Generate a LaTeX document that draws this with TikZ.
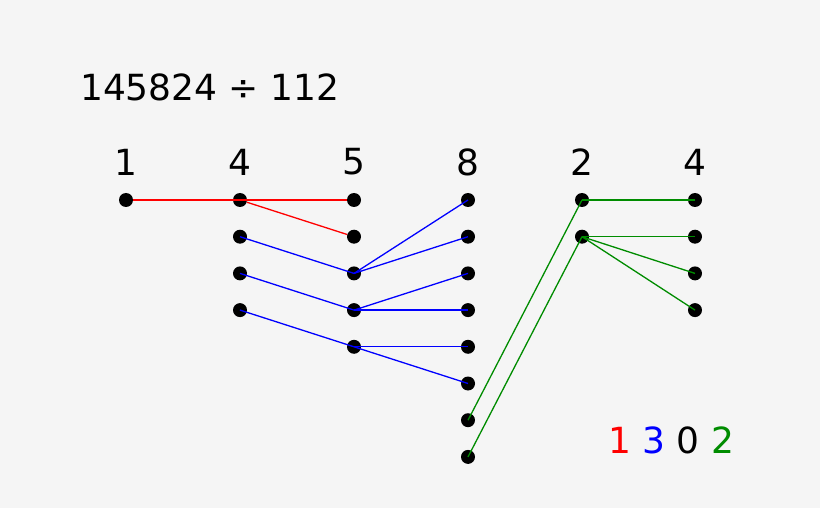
\documentclass[tikz,border=0pt]{standalone}
\usepackage{fontspec}
\setmainfont{DejaVu Sans}
\begin{document}
\begin{tikzpicture}[x=1pt,y=-1pt,
    pt/.style={circle,fill=black,inner sep=0pt,minimum size=14pt},
    big/.style={font=\fontsize{36}{40}\selectfont,inner sep=0pt},
    link/.style={line width=1.3pt}]
\useasboundingbox[fill=black!4] (0,0) rectangle (820,508);
% Title
\node[big,anchor=west] (title) at (80,87) {145824 ÷ 112};
% Columns: digit label and dots
\foreach \c/\x/\d/\n in {1/126/1/1,2/240/4/4,3/354/5/5,4/468/8/8,5/582/2/2,6/695/4/4}{
  \node[big] (lab\c) at (\x,162) {\d};
  \foreach \r in {1,...,\n}
    \node[pt] (p\c-\r) at (\x,{200+36.7*(\r-1)}) {};
}
% Red
\draw[red,link] (p1-1) -- (p3-1);
\draw[red,link] (p2-1) -- (p3-2);
% Blue
\foreach \a/\b in {2-2/3-3,2-3/3-4,2-4/3-5,3-3/4-1,3-3/4-2,3-4/4-3,3-4/4-4,3-5/4-5,3-5/4-6}
  \draw[blue,link] (p\a.center) -- (p\b.center);
% Green
\foreach \a/\b in {4-7/5-1,4-8/5-2,5-1/6-1,5-2/6-2,5-2/6-3,5-2/6-4}
  \draw[black!45!green,link] (p\a.center) -- (p\b.center);
% Result
\node[big,anchor=west] (result) at (608,440) {\textcolor{red}{1} \textcolor{blue}{3} 0 \textcolor{black!45!green}{2}};
\end{tikzpicture}
\end{document}
